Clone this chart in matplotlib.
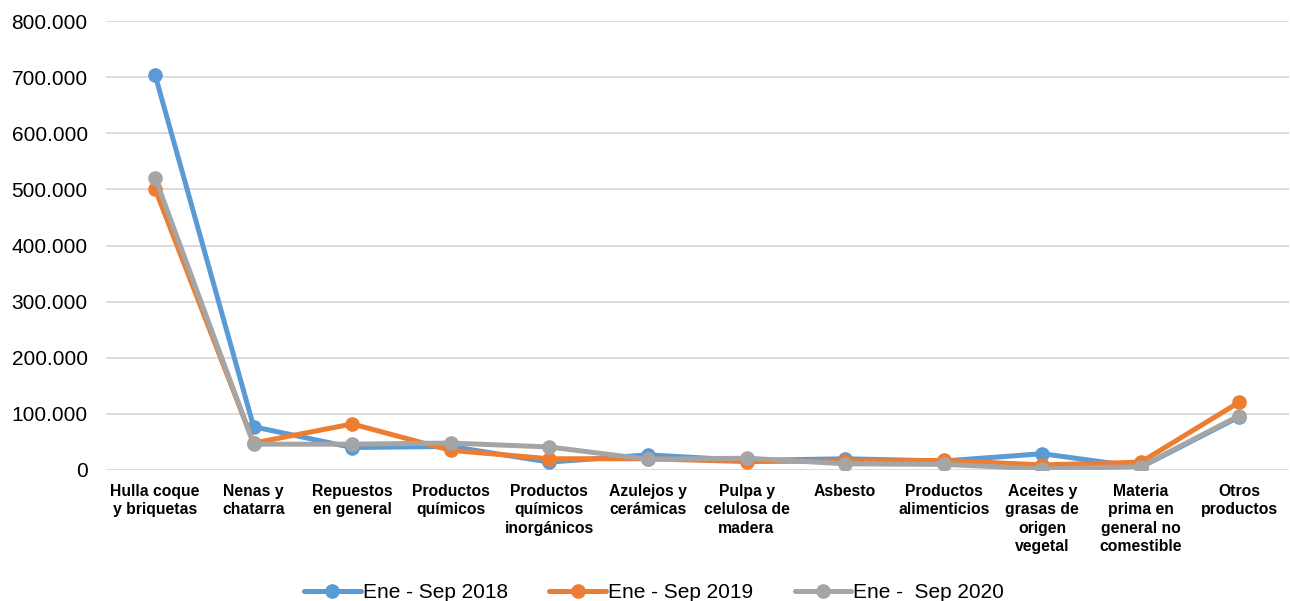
import matplotlib.pyplot as plt
from matplotlib.ticker import FuncFormatter

plt.rcParams['font.family'] = ['Liberation Sans', 'DejaVu Sans']

categories = [
    "Hulla coque\ny briquetas", "Nenas y\nchatarra", "Repuestos\nen general",
    "Productos\nquímicos", "Productos\nquímicos\ninorgánicos", "Azulejos y\ncerámicas",
    "Pulpa y\ncelulosa de\nmadera", "Asbesto", "Productos\nalimenticios",
    "Aceites y\ngrasas de\norigen\nvegetal", "Materia\nprima en\ngeneral no\ncomestible",
    "Otros\nproductos",
]

sep_2018 = [704000, 77000, 40000, 42000, 14000, 27000, 17000, 20000, 16000, 29000, 5000, 95000]
sep_2019 = [501000, 48000, 82000, 35000, 20000, 20000, 15000, 16000, 17000, 9000, 14000, 121000]
sep_2020 = [521000, 46000, 46000, 48000, 41000, 19000, 21000, 11000, 10000, 2000, 6000, 97000]

series = [
    ("Ene - Sep 2018", sep_2018, "#5B9BD5"),
    ("Ene - Sep 2019", sep_2019, "#ED7D31"),
    ("Ene -  Sep 2020", sep_2020, "#A5A5A5"),
]

fig = plt.figure(figsize=(12.9, 6.01), dpi=100)
ax = fig.add_axes([0.082, 0.218, 0.917, 0.747])

x = range(len(categories))
for label, values, color in series:
    ax.plot(x, values, color=color, linewidth=3.6, marker="o", markersize=9.5,
            label=label, solid_capstyle="round")

ax.set_xlim(-0.5, len(categories) - 0.5)
ax.set_ylim(0, 800000)
ax.set_yticks(range(0, 800001, 100000))
ax.yaxis.set_major_formatter(FuncFormatter(lambda v, p: f"{int(v):,}".replace(",", ".")))
ax.set_xticks(list(x))
ax.set_xticklabels(categories, fontsize=11.3, fontweight="bold", linespacing=1.28, va="top")
ax.tick_params(axis="y", labelsize=15, length=0, pad=13)
ax.tick_params(axis="x", length=0, pad=10)
ax.grid(axis="y", color="#D9D9D9", linewidth=1.3)
ax.set_axisbelow(True)
for s in ax.spines.values():
    s.set_visible(False)

fig.legend(loc="lower center", bbox_to_anchor=(0.507, -0.033), ncol=3, frameon=False,
           fontsize=15, handlelength=2.7, columnspacing=2.0, handletextpad=0.1)

fig.savefig("out.png", dpi=100)
